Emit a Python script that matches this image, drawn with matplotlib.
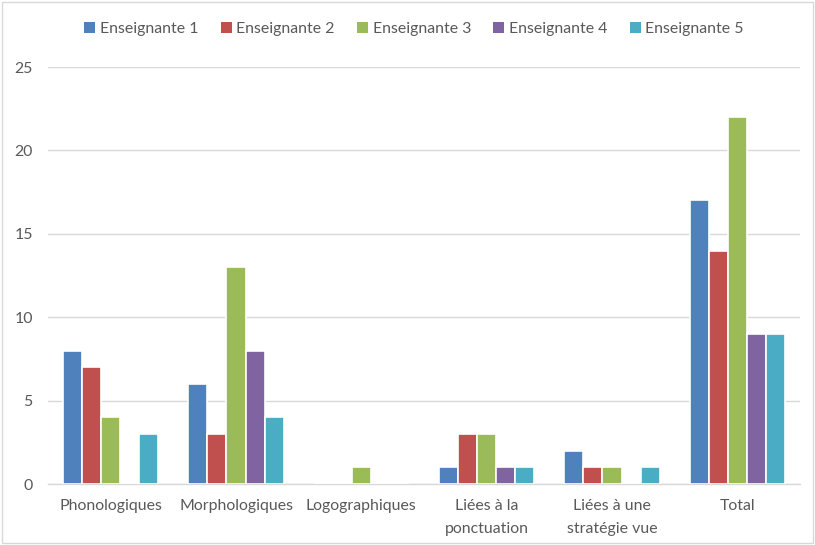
import matplotlib
matplotlib.use("Agg")
import matplotlib.pyplot as plt
import numpy as np
from matplotlib.patches import Rectangle

categories = ["Phonologiques", "Morphologiques", "Logographiques",
              "Liées à la\nponctuation", "Liées à une\nstratégie vue", "Total"]
series_names = ["Enseignante 1", "Enseignante 2", "Enseignante 3", "Enseignante 4", "Enseignante 5"]
ens1 = [8, 6, 0, 1, 2, 17]
ens2 = [7, 3, 0, 3, 1, 14]
ens3 = [4, 13, 1, 3, 1, 22]
ens4 = [0, 8, 0, 1, 0, 9]
ens5 = [3, 4, 0, 1, 1, 9]
yticks = [0, 5, 10, 15, 20, 25]
colors = ["#4F81BD", "#C0504D", "#9BBB59", "#8064A2", "#4BACC6"]

plt.rcParams['font.family'] = ['Lato', 'DejaVu Sans']
fig = plt.figure(figsize=(8.15, 5.45), dpi=100)
ax = fig.add_axes([0.0589, 0.1119, 0.9227, 0.7651])

x = np.arange(len(categories))
slot = 0.152
data = [ens1, ens2, ens3, ens4, ens5]
for i, (vals, name, c) in enumerate(zip(data, series_names, colors)):
    ax.bar(x + (i - 2) * slot, vals, width=slot, color=c, edgecolor="white",
           linewidth=1.2, label=name, zorder=3)

ax.set_xlim(-0.5, len(categories) - 0.5)
ax.set_ylim(0, 25)
ax.set_yticks(yticks)
ax.set_xticks(x)
ax.set_xticklabels(categories, linespacing=1.75)
ax.yaxis.grid(True, color="#D9D9D9", linewidth=1, zorder=0)
ax.set_axisbelow(True)
for s in ["top", "right", "left"]:
    ax.spines[s].set_visible(False)
ax.spines["bottom"].set_color("#D9D9D9")
ax.spines["bottom"].set_linewidth(1)
ax.tick_params(axis="both", length=0, colors="#595959", labelsize=11.4)
ax.tick_params(axis="x", pad=11)
ax.tick_params(axis="y", pad=11)

leg = fig.legend(loc="center", bbox_to_anchor=(0.508, 0.946), ncol=5, frameon=False,
                 fontsize=11.4, handlelength=0.7, handleheight=0.7, handletextpad=0.3,
                 columnspacing=1.4, labelcolor="#595959")
for h in leg.legend_handles:
    h.set_edgecolor("none")

fig.patches.append(Rectangle((0.003, 0.003), 0.994, 0.994, transform=fig.transFigure,
                             fill=False, edgecolor="#D9D9D9", linewidth=1))

fig.savefig("out.png", dpi=100)
